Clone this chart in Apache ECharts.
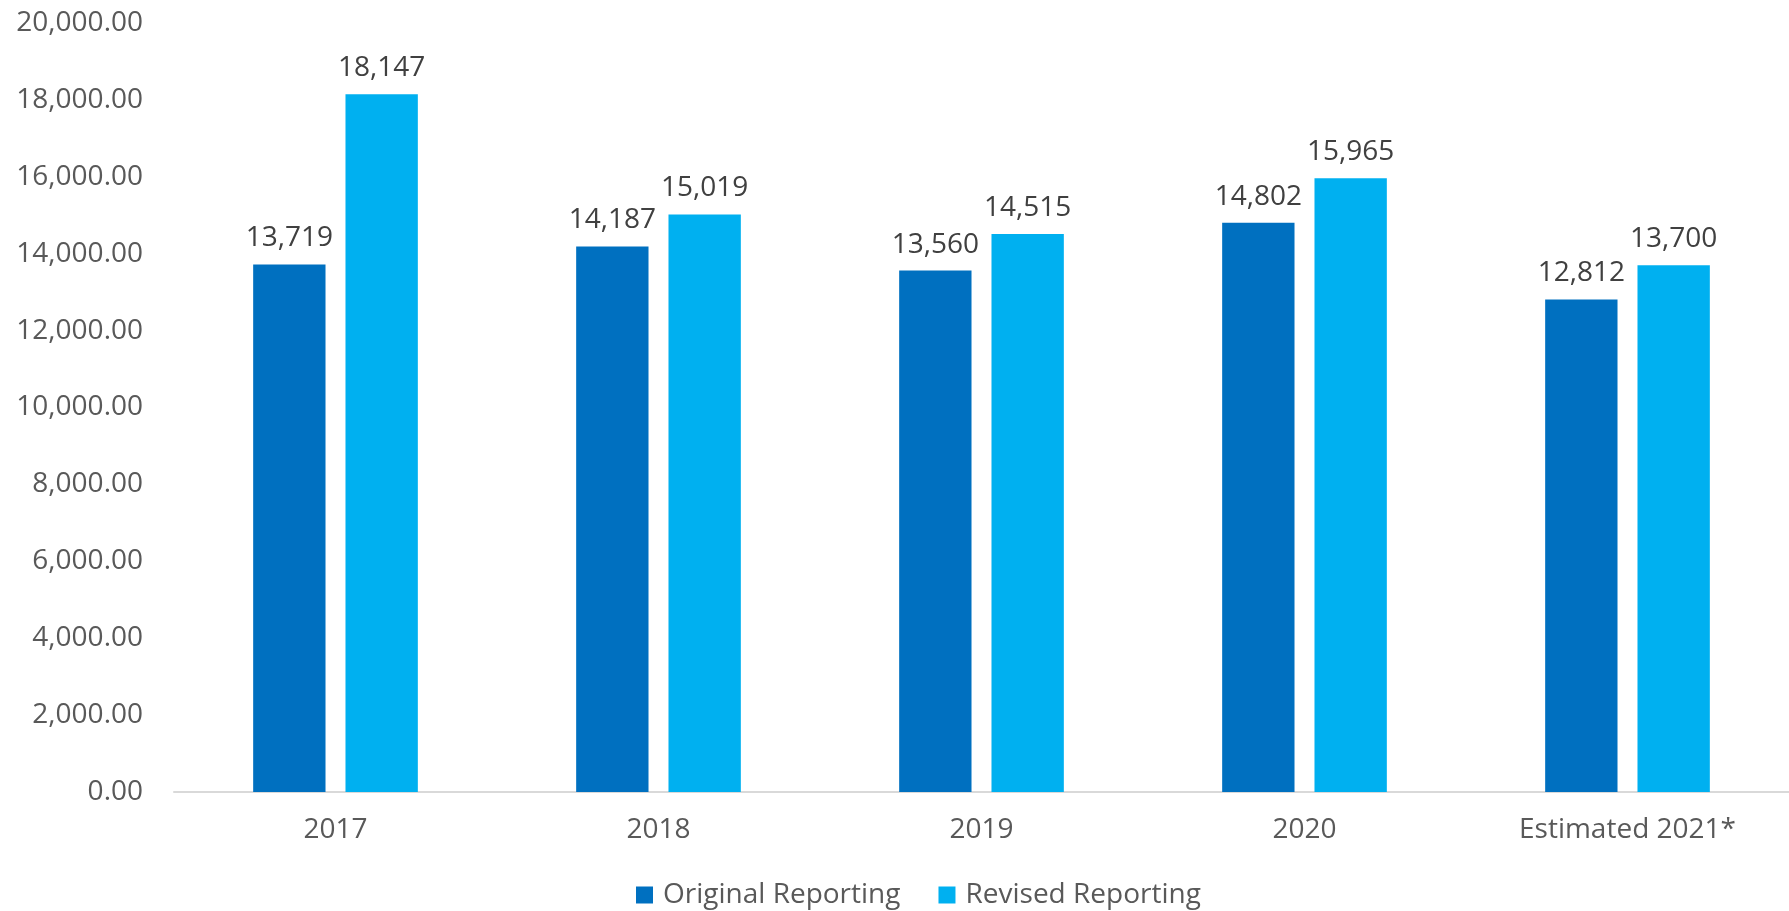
<!DOCTYPE html>
<html>
<head>
<meta charset="utf-8">
<script src="https://cdn.jsdelivr.net/npm/echarts@6/dist/echarts.min.js"></script>
<style>
  html, body { margin: 0; padding: 0; background: #fff; }
  #chart { width: 1789px; height: 911px; }
</style>
</head>
<body>
<div id="chart"></div>
<script>
var categories = ['2017', '2018', '2019', '2020', 'Estimated 2021*'];
var originalReporting = [13719, 14187, 13560, 14802, 12812];
var revisedReporting = [18147, 15019, 14515, 15965, 13700];

function fmt(v, dec) {
    var parts = v.toFixed(dec).split('.');
    parts[0] = parts[0].replace(/\B(?=(\d{3})+(?!\d))/g, ',');
    return parts.join('.');
}

var myChart = echarts.init(document.getElementById('chart'));

var labelStyle = {
    show: true,
    position: 'top',
    distance: 12,
    fontFamily: 'Open Sans',
    fontSize: 28,
    color: '#404040',
    formatter: function (p) { return fmt(p.value, 0); }
};

var option = {
    animation: false,
    textStyle: { fontFamily: 'Open Sans' },
    grid: { left: 174, right: 0, top: 23, bottom: 119 },
    legend: {
        data: ['Original Reporting', 'Revised Reporting'],
        left: 631,
        top: 876,
        itemWidth: 17,
        itemHeight: 17,
        itemGap: 38,
        icon: 'rect',
        textStyle: { fontSize: 28, color: '#595959', padding: [0, 0, 0, 5] }
    },
    xAxis: {
        type: 'category',
        data: categories,
        axisLine: { lineStyle: { color: '#d9d9d9', width: 2 } },
        axisTick: { show: false },
        axisLabel: { fontSize: 28, color: '#595959', margin: 24 }
    },
    yAxis: {
        type: 'value',
        min: 0,
        max: 20000,
        interval: 2000,
        splitLine: { show: false },
        axisLine: { show: false },
        axisLabel: {
            fontSize: 28,
            color: '#595959',
            margin: 31,
            formatter: function (v) { return fmt(v, 2); }
        }
    },
    series: [{
        name: 'Original Reporting',
        type: 'bar',
        data: originalReporting,
        barWidth: '22.4%',
        barGap: '27.6%',
        itemStyle: { color: '#0070C0' },
        label: labelStyle
    }, {
        name: 'Revised Reporting',
        type: 'bar',
        data: revisedReporting,
        barWidth: '22.4%',
        itemStyle: { color: '#00B0F0' },
        label: labelStyle
    }]
};

myChart.setOption(option);
</script>
</body>
</html>
